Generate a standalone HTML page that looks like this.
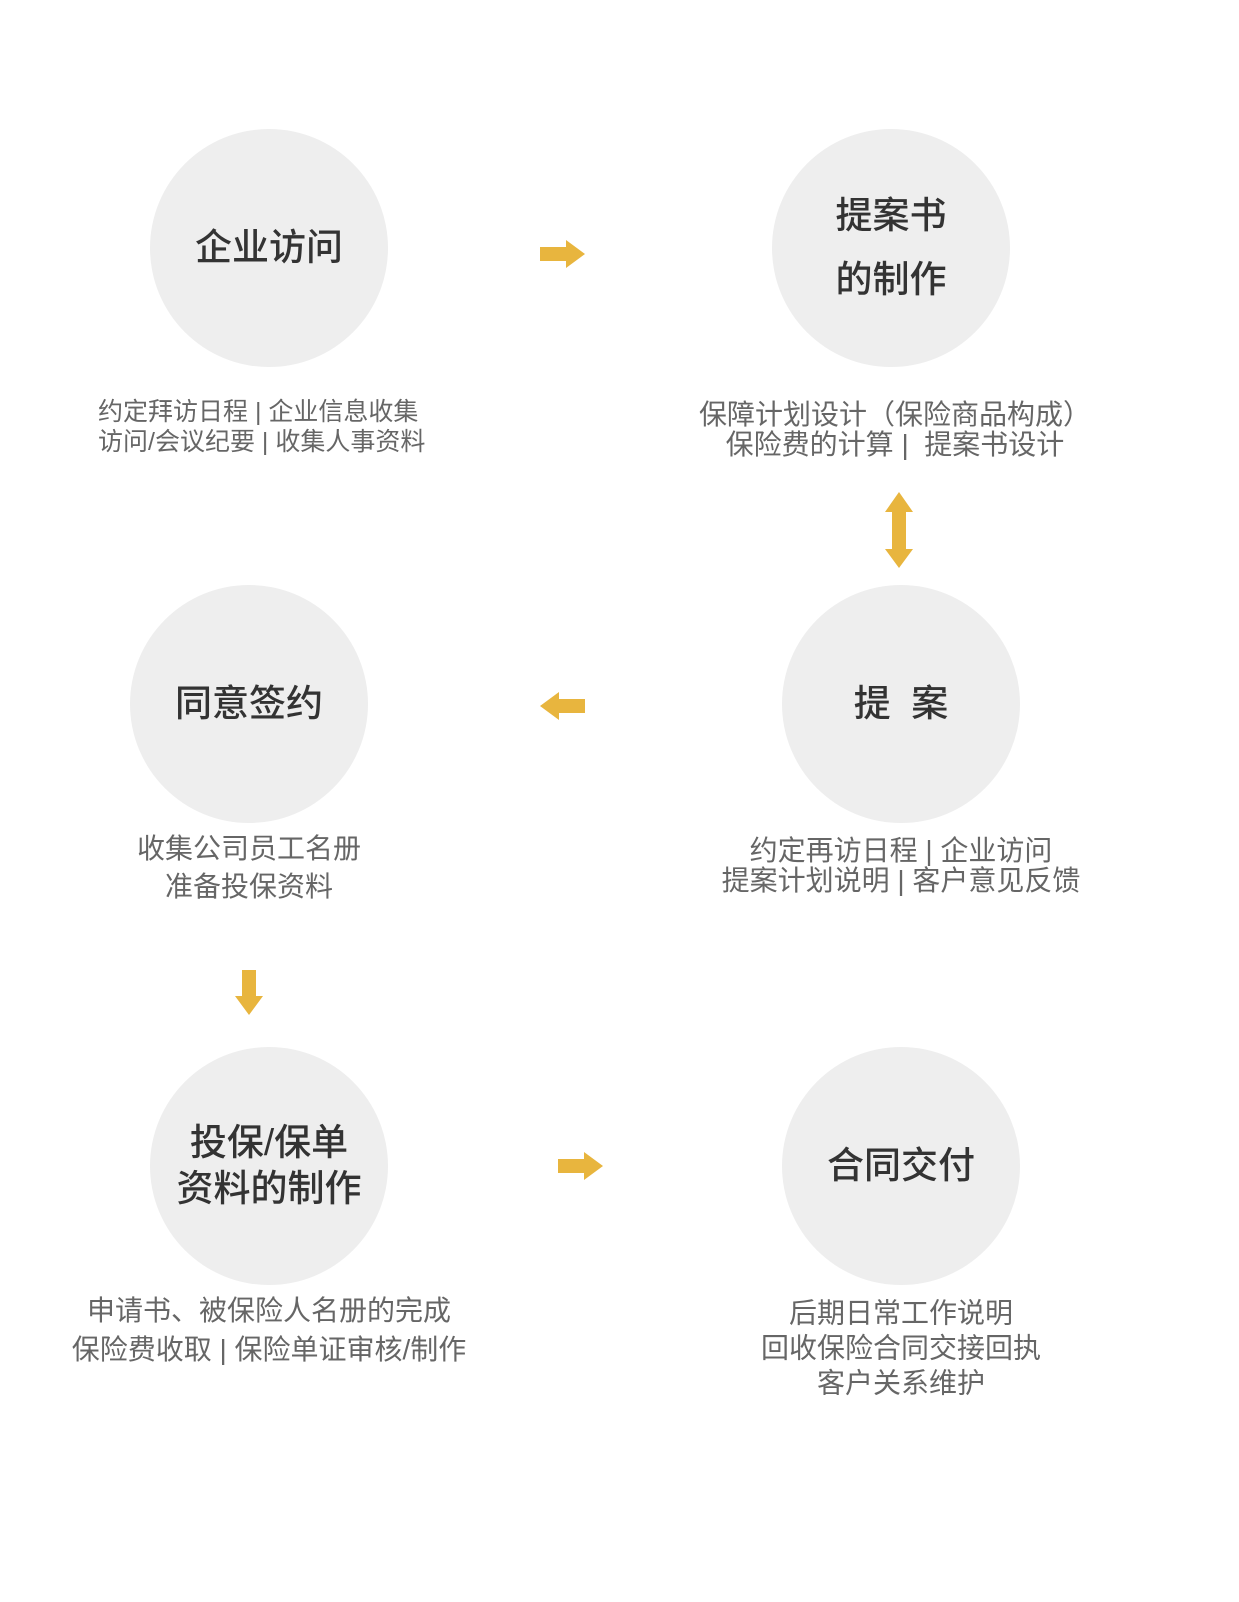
<!DOCTYPE html>
<html><head><meta charset="utf-8"><style>
body{margin:0;width:1239px;height:1602px;background:#fff;position:relative;overflow:hidden;font-family:"Liberation Sans","Noto Sans CJK SC",sans-serif}
.c{position:absolute;width:238px;height:238px;border-radius:50%;background:#eeeeee;display:flex;align-items:center;justify-content:center;text-align:center;color:#333;font-size:37px;font-weight:500;line-height:1.3}
.t{position:absolute;transform:translate(-50%,-50%);white-space:pre;color:#666;font-size:28px;text-align:center;line-height:1.2}
svg{position:absolute;left:0;top:0}
</style></head><body>
<div class="c" style="left:150px;top:129px">企业访问</div>
<div class="c" style="left:772px;top:129px;line-height:64px">提案书<br>的制作</div>
<div class="c" style="left:130px;top:585px">同意签约</div>
<div class="c" style="left:782px;top:585px">提&nbsp;&nbsp;案</div>
<div class="c" style="left:150px;top:1047px;line-height:46px">投保/保单<br>资料的制作</div>
<div class="c" style="left:782px;top:1047px">合同交付</div>

<div class="t" style="left:98px;top:397px;transform:none;font-size:25px;text-align:left;line-height:30px">约定拜访日程 | 企业信息收集
访问/会议纪要 | 收集人事资料</div>
<div class="t" style="left:895px;top:430px;line-height:30px">保障计划设计（保险商品构成）
保险费的计算 |  提案书设计</div>
<div class="t" style="left:249px;top:868px;line-height:38px">收集公司员工名册
准备投保资料</div>
<div class="t" style="left:901px;top:866px;line-height:30px">约定再访日程 | 企业访问
提案计划说明 | 客户意见反馈</div>
<div class="t" style="left:269px;top:1330px;line-height:39px">申请书、被保险人名册的完成
保险费收取 | 保险单证审核/制作</div>
<div class="t" style="left:901px;top:1348px;line-height:35px">后期日常工作说明
回收保险合同交接回执
客户关系维护</div>

<svg width="1239" height="1602" fill="#e8b53e">
<polygon points="540,247 566,247 566,240 585,254 566,268 566,261 540,261"/>
<polygon points="558,1159 584,1159 584,1152 603,1166 584,1180 584,1173 558,1173"/>
<polygon points="585,699 559,699 559,692 540,706 559,720 559,713 585,713"/>
<polygon points="242,970 256,970 256,996 263,996 249,1015 235,996 242,996"/>
<polygon points="899,492 913,512 906,512 906,549 913,549 899,568 885,549 892,549 892,512 885,512"/>
</svg>
</body></html>
